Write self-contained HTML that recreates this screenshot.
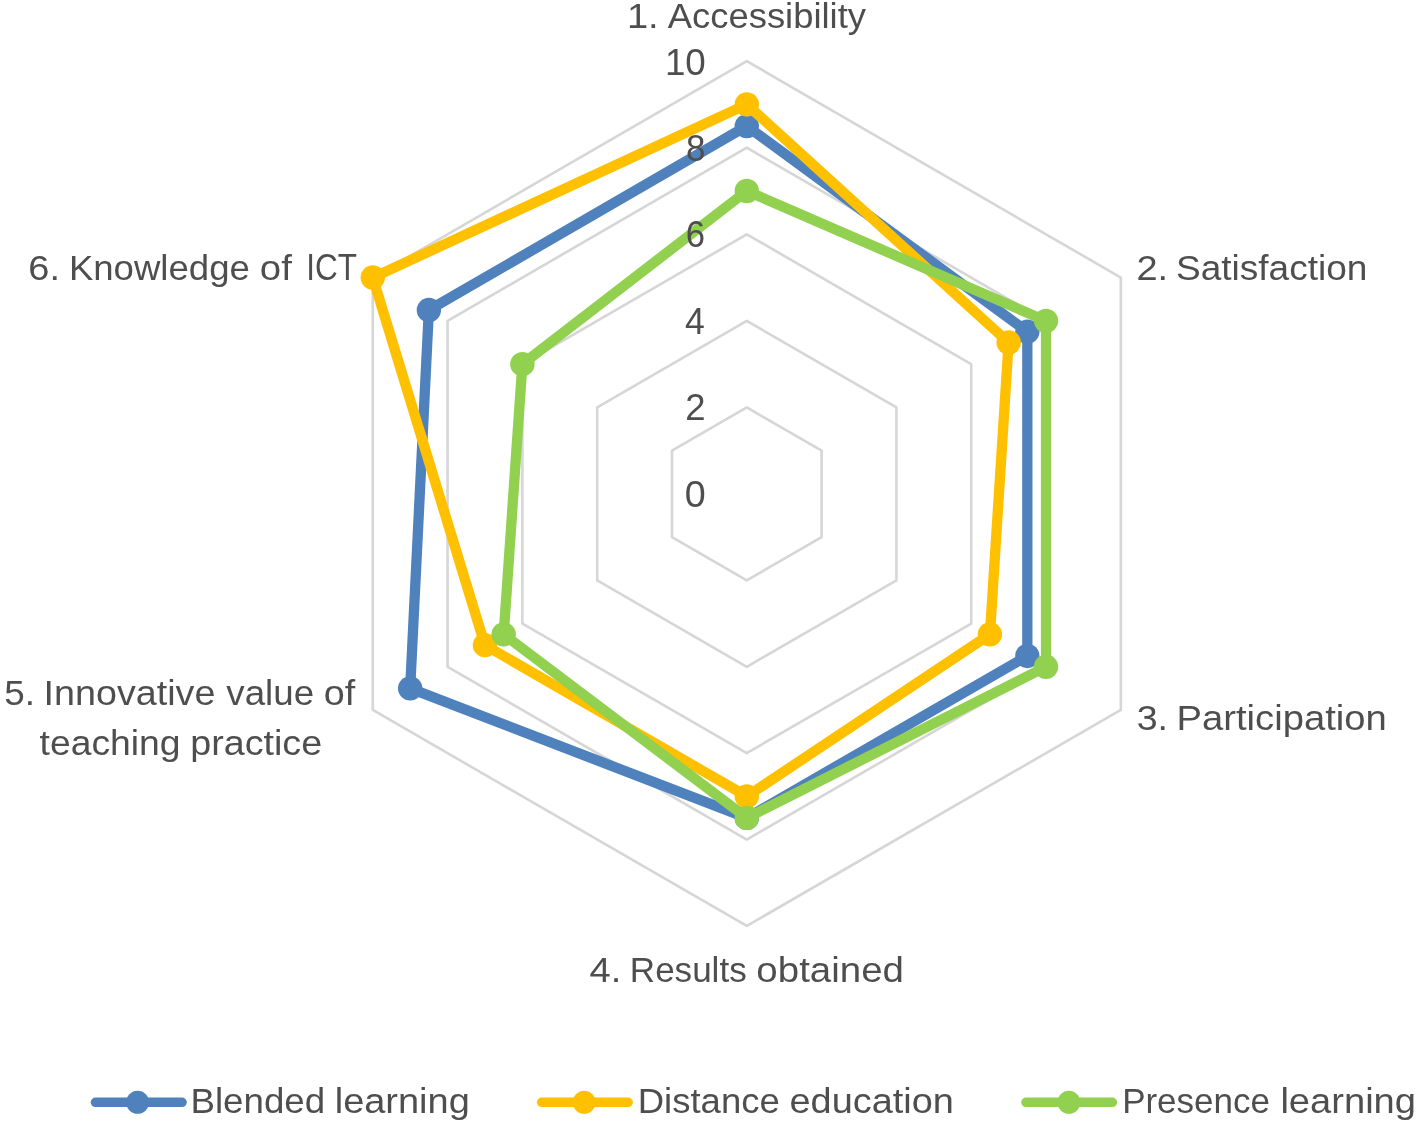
<!DOCTYPE html>
<html lang="en"><head><meta charset="utf-8"><title>Radar chart</title>
<style>html,body{margin:0;padding:0;background:#fff}svg{display:block}text{font-family:"Liberation Sans",sans-serif;fill:#4E4E4E}</style></head><body>
<svg width="1417" height="1127" viewBox="0 0 1417 1127">
<rect width="1417" height="1127" fill="#fff"/>
<g fill="none" stroke="#D6D6D6" stroke-width="2.6" stroke-linejoin="round">
<polygon points="746.80,407.43 821.61,450.71 821.61,537.19 746.80,580.38 671.99,537.19 671.99,450.71"/>
<polygon points="746.80,320.86 896.41,407.43 896.41,580.38 746.80,666.76 597.19,580.38 597.19,407.43"/>
<polygon points="746.80,234.29 971.22,364.14 971.22,623.57 746.80,753.14 522.38,623.57 522.38,364.14"/>
<polygon points="746.80,147.72 1046.03,320.86 1046.03,666.76 746.80,839.52 447.57,666.76 447.57,320.86"/>
<polygon points="746.80,61.15 1120.84,277.57 1120.84,709.95 746.80,925.90 372.76,709.95 372.76,277.57"/>
</g>
<g><polygon points="746.80,126.08 1027.33,331.68 1027.33,655.96 746.80,817.92 410.17,688.36 428.87,310.04" fill="none" stroke="#4F81BD" stroke-width="10.3" stroke-linejoin="round"/>
<circle cx="746.80" cy="126.08" r="12.2" fill="#4F81BD"/>
<circle cx="1027.33" cy="331.68" r="12.2" fill="#4F81BD"/>
<circle cx="1027.33" cy="655.96" r="12.2" fill="#4F81BD"/>
<circle cx="746.80" cy="817.92" r="12.2" fill="#4F81BD"/>
<circle cx="410.17" cy="688.36" r="12.2" fill="#4F81BD"/>
<circle cx="428.87" cy="310.04" r="12.2" fill="#4F81BD"/>
</g>
<g><polygon points="746.80,104.43 1008.63,342.50 989.92,634.37 746.80,796.33 484.97,645.16 372.76,277.57" fill="none" stroke="#FFC000" stroke-width="10.3" stroke-linejoin="round"/>
<circle cx="746.80" cy="104.43" r="12.2" fill="#FFC000"/>
<circle cx="1008.63" cy="342.50" r="12.2" fill="#FFC000"/>
<circle cx="989.92" cy="634.37" r="12.2" fill="#FFC000"/>
<circle cx="746.80" cy="796.33" r="12.2" fill="#FFC000"/>
<circle cx="484.97" cy="645.16" r="12.2" fill="#FFC000"/>
<circle cx="372.76" cy="277.57" r="12.2" fill="#FFC000"/>
</g>
<g><polygon points="746.80,191.00 1046.03,320.86 1046.03,666.76 746.80,817.92 503.68,634.37 522.38,364.14" fill="none" stroke="#92D050" stroke-width="10.3" stroke-linejoin="round"/>
<circle cx="746.80" cy="191.00" r="12.2" fill="#92D050"/>
<circle cx="1046.03" cy="320.86" r="12.2" fill="#92D050"/>
<circle cx="1046.03" cy="666.76" r="12.2" fill="#92D050"/>
<circle cx="746.80" cy="817.92" r="12.2" fill="#92D050"/>
<circle cx="503.68" cy="634.37" r="12.2" fill="#92D050"/>
<circle cx="522.38" cy="364.14" r="12.2" fill="#92D050"/>
</g>
<text font-size="35.5"><tspan x="626.95" y="28.20" font-size="35.5" textLength="31.75" lengthAdjust="spacingAndGlyphs">1.</tspan> <tspan x="667.80" y="28.20" font-size="35.5" textLength="198.18" lengthAdjust="spacingAndGlyphs">Accessibility</tspan></text>
<text font-size="35.5"><tspan x="1136.43" y="279.80" font-size="35.5" textLength="31.66" lengthAdjust="spacingAndGlyphs">2.</tspan> <tspan x="1175.97" y="279.80" font-size="35.5" textLength="191.49" lengthAdjust="spacingAndGlyphs">Satisfaction</tspan></text>
<text font-size="35.5"><tspan x="1136.71" y="729.80" font-size="35.5" textLength="31.34" lengthAdjust="spacingAndGlyphs">3.</tspan> <tspan x="1176.57" y="729.80" font-size="35.5" textLength="210.17" lengthAdjust="spacingAndGlyphs">Participation</tspan></text>
<text font-size="35.5"><tspan x="589.59" y="981.80" font-size="35.5" textLength="31.82" lengthAdjust="spacingAndGlyphs">4.</tspan> <tspan x="629.84" y="981.80" font-size="35.5" textLength="116.82" lengthAdjust="spacingAndGlyphs">Results</tspan> <tspan x="756.38" y="981.80" font-size="35.5" textLength="147.53" lengthAdjust="spacingAndGlyphs">obtained</tspan></text>
<text font-size="35.5"><tspan x="4.24" y="705.30" font-size="35.5" textLength="30.75" lengthAdjust="spacingAndGlyphs">5.</tspan> <tspan x="43.55" y="705.30" font-size="35.5" textLength="171.84" lengthAdjust="spacingAndGlyphs">Innovative</tspan> <tspan x="226.34" y="705.30" font-size="35.5" textLength="87.74" lengthAdjust="spacingAndGlyphs">value</tspan> <tspan x="323.71" y="705.30" font-size="35.5" textLength="31.44" lengthAdjust="spacingAndGlyphs">of</tspan> <tspan x="39.57" y="754.90" font-size="35.5" textLength="141.06" lengthAdjust="spacingAndGlyphs">teaching</tspan> <tspan x="190.21" y="754.90" font-size="35.5" textLength="131.95" lengthAdjust="spacingAndGlyphs">practice</tspan></text>
<text font-size="35.5"><tspan x="28.33" y="279.80" font-size="35.5" textLength="31.66" lengthAdjust="spacingAndGlyphs">6.</tspan> <tspan x="68.91" y="279.80" font-size="35.5" textLength="180.91" lengthAdjust="spacingAndGlyphs">Knowledge</tspan> <tspan x="259.88" y="279.80" font-size="35.5" textLength="31.97" lengthAdjust="spacingAndGlyphs">of</tspan>  <tspan x="306.20" y="279.80" font-size="36.8" textLength="50.77" lengthAdjust="spacingAndGlyphs">ICT</tspan></text>
<text font-size="35.5"><tspan x="664.95" y="74.60" font-size="36.8" textLength="40.88" lengthAdjust="spacingAndGlyphs">10</tspan></text>
<text font-size="35.5"><tspan x="686.07" y="160.60" font-size="36.8" textLength="19.46" lengthAdjust="spacingAndGlyphs">8</tspan></text>
<text font-size="35.5"><tspan x="685.85" y="247.20" font-size="36.8" textLength="19.26" lengthAdjust="spacingAndGlyphs">6</tspan></text>
<text font-size="35.5"><tspan x="685.08" y="334.00" font-size="36.8" textLength="19.76" lengthAdjust="spacingAndGlyphs">4</tspan></text>
<text font-size="35.5"><tspan x="685.17" y="420.40" font-size="36.8" textLength="20.29" lengthAdjust="spacingAndGlyphs">2</tspan></text>
<text font-size="35.5"><tspan x="684.87" y="506.90" font-size="36.8" textLength="20.94" lengthAdjust="spacingAndGlyphs">0</tspan></text>
<text font-size="35.5"><tspan x="190.40" y="1113.40" font-size="35.5" textLength="134.78" lengthAdjust="spacingAndGlyphs">Blended</tspan> <tspan x="334.73" y="1113.40" font-size="35.5" textLength="135.06" lengthAdjust="spacingAndGlyphs">learning</tspan></text>
<text font-size="35.5"><tspan x="637.71" y="1113.40" font-size="35.5" textLength="142.06" lengthAdjust="spacingAndGlyphs">Distance</tspan> <tspan x="789.50" y="1113.40" font-size="35.5" textLength="164.34" lengthAdjust="spacingAndGlyphs">education</tspan></text>
<text font-size="35.5"><tspan x="1122.15" y="1113.40" font-size="35.5" textLength="147.72" lengthAdjust="spacingAndGlyphs">Presence</tspan> <tspan x="1280.42" y="1113.40" font-size="35.5" textLength="135.58" lengthAdjust="spacingAndGlyphs">learning</tspan></text>
<line x1="95.5" y1="1102.3" x2="182" y2="1102.3" stroke="#4F81BD" stroke-width="9.6" stroke-linecap="round"/>
<circle cx="137.6" cy="1102.3" r="11.5" fill="#4F81BD"/>
<line x1="541.7" y1="1102.3" x2="628.1" y2="1102.3" stroke="#FFC000" stroke-width="9.6" stroke-linecap="round"/>
<circle cx="584.2" cy="1102.3" r="11.5" fill="#FFC000"/>
<line x1="1026" y1="1102.3" x2="1112.3" y2="1102.3" stroke="#92D050" stroke-width="9.6" stroke-linecap="round"/>
<circle cx="1068.9" cy="1102.3" r="11.5" fill="#92D050"/>
</svg></body></html>
